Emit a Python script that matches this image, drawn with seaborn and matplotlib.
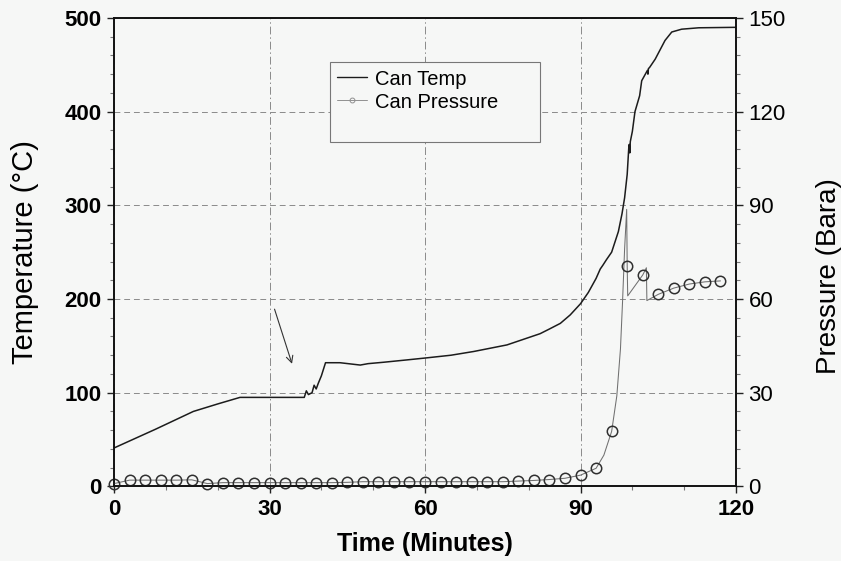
import numpy as np
import pandas as pd
import seaborn as sns
import matplotlib.pyplot as plt
from matplotlib.ticker import MultipleLocator
from matplotlib.lines import Line2D

# ---------------- data ----------------
temp_time = [0, 8, 15.3, 20, 24.3, 30, 36.7, 37.1, 37.5, 38.2, 38.6, 39.0, 39.4,
             40.0, 40.8, 43.6, 47.5, 49, 52, 56.5, 60, 65, 69.4, 75.8, 79, 82.2,
             84, 86.1, 88, 90, 91.5, 93, 93.8, 94.3, 95, 96, 97.3, 98, 98.5, 99,
             99.3, 99.4, 99.5, 99.6, 100, 100.5, 101.4, 101.8, 102.9, 103.0,
             103.1, 103.3, 104.4, 106.3, 107.6, 109.5, 112.8, 120]
temp_vals = [41, 61, 80, 88, 95, 95, 95, 102, 98, 100, 108, 104, 110,
             118, 132, 132, 129.5, 131, 132.5, 135, 137, 140, 144, 151, 157, 163,
             168, 174, 183, 195, 207, 222, 232, 236, 242, 250, 272, 291, 308, 333,
             361, 365, 356, 368, 379, 400, 417, 433, 444, 440,
             446, 447, 456, 476, 485, 488, 489.5, 490]

pres_time = [0, 3, 6, 9, 12, 15, 18, 21, 24, 27, 30, 33, 36, 39, 42, 45,
             48, 51, 54, 57, 60, 63, 66, 69, 72, 75, 78, 81, 84, 87, 90, 93,
             94.5, 96, 97, 97.7, 98.1, 98.5, 98.9, 99, 99.1, 102, 102.7, 102.8,
             105, 108, 111, 114, 117]
pres_vals = [0.9, 2.0, 2.0, 2.0, 2.0, 2.1, 0.9, 1.2, 1.2, 1.2, 1.2, 1.2, 1.2, 1.2, 1.2, 1.3,
             1.5, 1.5, 1.5, 1.5, 1.5, 1.5, 1.5, 1.5, 1.5, 1.5, 1.7, 1.9, 2.2, 2.6, 3.6, 5.8,
             10, 17.6, 29, 44, 59, 76, 88.7, 70.6, 61, 67.7, 70, 59.5,
             61.5, 63.5, 64.8, 65.5, 65.8]

x_ticks = [0, 30, 60, 90, 120]
temp_ticks = [0, 100, 200, 300, 400, 500]
pres_ticks = [0, 30, 60, 90, 120, 150]
labels = {"temp": "Can Temp", "pres": "Can Pressure"}

# markers are drawn at every 3-minute sample of the pressure record
marker_idx = [i for i, t in enumerate(pres_time) if abs(t / 3 - round(t / 3)) < 1e-9]

# ---------------- style ----------------
sns.set_theme(style="ticks")
plt.rcParams["font.family"] = ["Liberation Sans", "DejaVu Sans"]
for k in ("text.color", "axes.labelcolor", "xtick.color", "ytick.color"):
    plt.rcParams[k] = "black"
bg = "#f6f7f6"

fig = plt.figure(figsize=(8.41, 5.61), dpi=100, facecolor=bg)
ax = fig.add_axes([0.1356, 0.133, 0.7396, 0.835])
ax.set_facecolor(bg)
ax2 = ax.twinx()
ax2.set_facecolor("none")

# ---------------- lines ----------------
sns.lineplot(x=temp_time, y=temp_vals, ax=ax, color="#1c1c1c", lw=1.1,
             errorbar=None, label=labels["temp"], legend=False)
sns.lineplot(x=pres_time, y=pres_vals, ax=ax2, color="#707070", lw=0.75,
             errorbar=None, marker="o", markevery=marker_idx, ms=7.5,
             mfc="none", mec="#303030", mew=1.1, label=labels["pres"],
             legend=False, clip_on=False)

# ---------------- axes ----------------
ax.set_xlim(0, 120)
ax.set_ylim(0, 500)
ax2.set_ylim(0, 150)
ax.set_xticks(x_ticks)
ax.set_yticks(temp_ticks)
ax2.set_yticks(pres_ticks)
ax.xaxis.set_minor_locator(MultipleLocator(10))
ax.yaxis.set_minor_locator(MultipleLocator(20))
ax2.yaxis.set_minor_locator(MultipleLocator(6))

for a in (ax, ax2):
    for s in a.spines.values():
        s.set_color("#111111")
        s.set_linewidth(1.2)
        s.set_visible(True)

ax.tick_params(axis="both", which="major", direction="out", length=5, width=1.0,
               color="#222222", labelsize=16, pad=4, top=False, right=False)
ax.tick_params(axis="both", which="minor", direction="out", length=3, width=0.8,
               color="#777777", top=False, right=False)
ax2.tick_params(axis="y", which="major", direction="out", length=5, width=1.0,
                color="#222222", labelsize=16, pad=4)
ax2.tick_params(axis="y", which="minor", direction="out", length=3, width=0.8,
                color="#777777")
for lab in ax.get_xticklabels() + ax.get_yticklabels():
    lab.set_fontweight("bold")

ax.xaxis.grid(True, which="major", ls=(0, (8, 3, 1.5, 3)), lw=0.7, color="#8a8a8a")
ax.yaxis.grid(True, which="major", ls=(0, (6, 4)), lw=0.7, color="#8a8a8a")
ax2.grid(False)

ax.set_xlabel("Time (Minutes)", fontsize=18, fontweight="bold", labelpad=9)
ax.set_ylabel("Temperature (°C)", fontsize=21, labelpad=18)
ax2.set_ylabel("Pressure (Bara)", fontsize=20, labelpad=22)
ax2.yaxis.label.set_y(0.45)

# arrow annotation pointing at the temperature step
ax.annotate("", xy=(34.5, 128), xytext=(30.8, 192),
            arrowprops=dict(arrowstyle="->", lw=0.8, color="#333333",
                            mutation_scale=12))

# ---------------- legend ----------------
h_temp = Line2D([], [], color="#1c1c1c", lw=1.0)
h_pres = Line2D([], [], color="#909090", lw=0.7, marker="o", ms=3.5,
                mfc="none", mec="#909090", mew=0.7)
h_blank = Line2D([], [], color="none")
leg = ax2.legend([h_temp, h_pres, h_blank], [labels["temp"], labels["pres"], " "],
                 loc="upper left", bbox_to_anchor=(0.347, 0.75, 0.338, 0.155),
                 mode="expand", fontsize=14.5,
                 frameon=True, fancybox=False, edgecolor="#777777",
                 facecolor=bg, framealpha=1, handlelength=1.5, handletextpad=0.4,
                 labelspacing=0.2, borderpad=0.35, borderaxespad=0)
leg.get_frame().set_linewidth(0.8)

fig.savefig("out.png", dpi=100, facecolor=bg)
